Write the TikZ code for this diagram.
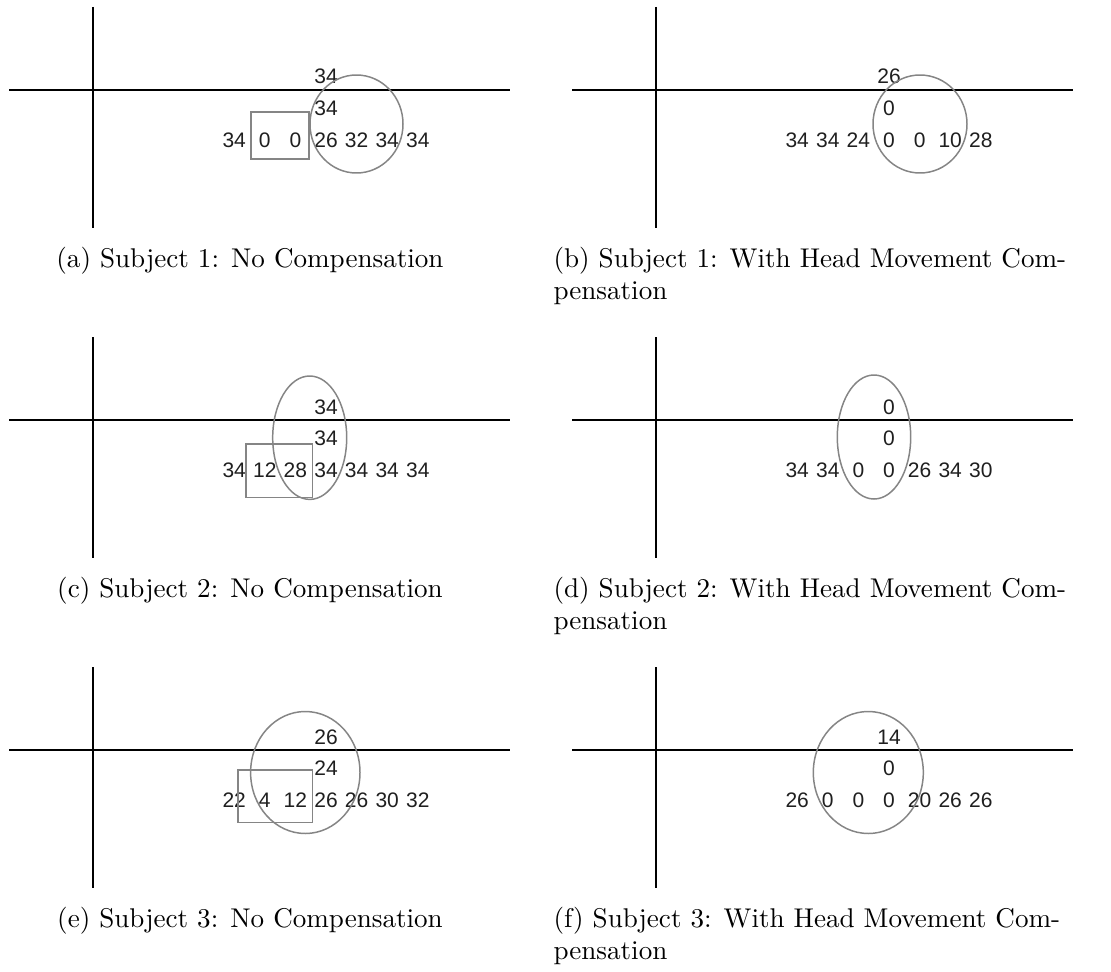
\documentclass[tikz,border=0pt]{standalone}
\usepackage{fontspec}
\newfontfamily\numfont{Liberation Sans}
\tikzset{
  axisline/.style={line width=0.74pt, black},
  markshape/.style={line width=0.55pt, draw=black!48},
  val/.style={font=\numfont\fontsize{7.75}{9}\selectfont, anchor=base, inner sep=0pt, text=black!88},
  capt/.style={font=\fontsize{10}{12}\selectfont, inner sep=0pt, anchor=base},
}
\newcommand\drawpanel[6]{%
  \coordinate (#1-l) at (#2-84,#3);
  \coordinate (#1-r) at (#2+417,#3);
  \coordinate (#1-u) at (#2,#3-83);
  \coordinate (#1-d) at (#2,#3+138);
  \draw[axisline] (#1-l) -- (#1-r);
  \draw[axisline] (#1-u) -- (#1-d);
  \node[val] (#1-t) at (#2+233,#3-6) {#4};
  \node[val] (#1-m) at (#2+233,#3+25.5) {#5};
  \foreach \v [count=\k from 0] in {#6} {
    \node[val] (#1-b\k) at ({#2+233+30.6*(\k-3)},#3+57) {\v};
  }
}
\begin{document}
\begin{tikzpicture}[x=0.369pt, y=-0.369pt]
  \useasboundingbox (0,0) rectangle (1111,972);
  % panels
  \drawpanel{a}{93}{90}{34}{34}{34,0,0,26,32,34,34}
  \drawpanel{b}{656}{90}{26}{0}{34,34,24,0,0,10,28}
  \drawpanel{c}{93}{420}{34}{34}{34,12,28,34,34,34,34}
  \drawpanel{d}{656}{420}{0}{0}{34,34,0,0,26,34,30}
  \drawpanel{e}{93}{750}{26}{24}{22,4,12,26,26,30,32}
  \drawpanel{f}{656}{750}{14}{0}{26,0,0,0,20,26,26}
  % marks
  \draw[markshape] (356.5,124) ellipse [x radius=46.5, y radius=49];
  \draw[markshape] (251,112) rectangle (309,159);
  \draw[markshape] (920,124) ellipse [x radius=47, y radius=49];
  \draw[markshape] (309.7,437.7) ellipse [x radius=37, y radius=61.7];
  \draw[markshape] (246,444) rectangle (312.7,497.3);
  \draw[markshape] (874,437) ellipse [x radius=36.7, y radius=62];
  \draw[markshape] (305.3,772.5) ellipse [x radius=54.7, y radius=61];
  \draw[markshape] (238,770) rectangle (312.7,822.7);
  \draw[markshape] (868.3,772.5) ellipse [x radius=55, y radius=61];
  % captions
  \node[capt] (capa) at (250,267) {(a) Subject 1: No Compensation};
  \node[capt, anchor=base west] (capb) at (553,267) {\vtop{\hbox{(b) Subject 1: With Head Movement Com-}\hbox{pensation}}};
  \node[capt] (capc) at (250,597) {(c) Subject 2: No Compensation};
  \node[capt, anchor=base west] (capd) at (553,597) {\vtop{\hbox{(d) Subject 2: With Head Movement Com-}\hbox{pensation}}};
  \node[capt] (cape) at (250,927) {(e) Subject 3: No Compensation};
  \node[capt, anchor=base west] (capf) at (553,927) {\vtop{\hbox{(f) Subject 3: With Head Movement Com-}\hbox{pensation}}};
\end{tikzpicture}
\end{document}
